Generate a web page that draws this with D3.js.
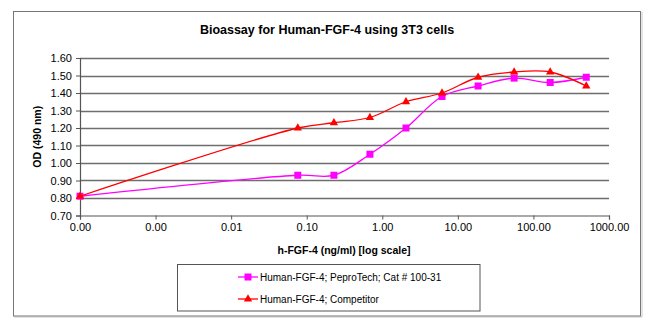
<!DOCTYPE html>
<html>
<head>
<meta charset="utf-8">
<script src="https://cdn.jsdelivr.net/npm/d3@7"></script>
<style>
  html, body { margin: 0; padding: 0; background: #fff; }
  svg { display: block; }
  text { font-family: "Liberation Sans", Arial, sans-serif; fill: #000; }
</style>
</head>
<body>
<svg id="chart" width="650" height="331"></svg>
<script>
// ---- data ----
const concentrations = [0.0001, 0.0762, 0.229, 0.686, 2.058, 6.173, 18.52, 55.56, 166.7, 500];
const peproTechOD = [0.81, 0.93, 0.93, 1.05, 1.20, 1.38, 1.44, 1.485, 1.46, 1.49];
const competitorOD = [0.81, 1.20, 1.23, 1.26, 1.35, 1.40, 1.49, 1.52, 1.52, 1.44];
const xTickValues = [0.0001, 0.001, 0.01, 0.1, 1, 10, 100, 1000];
const xTickLabels = ["0.00", "0.00", "0.01", "0.10", "1.00", "10.00", "100.00", "1000.00"];
const yTickValues = [0.70, 0.80, 0.90, 1.00, 1.10, 1.20, 1.30, 1.40, 1.50, 1.60];
const seriesNames = ["Human-FGF-4; PeproTech; Cat # 100-31", "Human-FGF-4; Competitor"];
const seriesColors = ["#ff00ff", "#ff0000"];
const chartTitle = "Bioassay for Human-FGF-4 using 3T3 cells";
const xTitle = "h-FGF-4 (ng/ml) [log scale]";
const yTitle = "OD (490 nm)";

// ---- layout ----
const svg = d3.select("#chart");
const plot = { left: 80, right: 609, top: 58, bottom: 215.5 };

// outer chart border with slight shadow
svg.append("line").attr("x1", 14).attr("x2", 642).attr("y1", 317).attr("y2", 317)
  .attr("stroke", "#c8c8c8").attr("stroke-width", 1);
svg.append("line").attr("x1", 642).attr("x2", 642).attr("y1", 12).attr("y2", 317)
  .attr("stroke", "#c8c8c8").attr("stroke-width", 1);
svg.append("rect").attr("x", 13.5).attr("y", 11.5).attr("width", 627).attr("height", 304.5)
  .attr("fill", "none").attr("stroke", "#777").attr("stroke-width", 1);

const x = d3.scaleLog().domain([0.0001, 1000]).range([plot.left, plot.right]);
const y = d3.scaleLinear().domain([0.70, 1.60]).range([plot.bottom, plot.top]);

// gridlines
svg.append("g").selectAll("line").data(yTickValues.slice(1)).join("line")
  .attr("x1", plot.left).attr("x2", plot.right)
  .attr("y1", d => Math.round(y(d)) + 0.5).attr("y2", d => Math.round(y(d)) + 0.5)
  .attr("stroke", "#6e6e6e").attr("stroke-width", 1.3);

// y axis
const yAxis = d3.axisLeft(y).tickValues(yTickValues).tickFormat(d3.format(".2f"))
  .tickSize(4).tickPadding(4);
const gy = svg.append("g").attr("transform", `translate(${plot.left},0)`).call(yAxis);
gy.select(".domain").attr("stroke", "#555").attr("stroke-width", 1.2);
gy.selectAll(".tick line").attr("stroke", "#555");
gy.selectAll("text").attr("font-size", 11).attr("font-family", "Liberation Sans, Arial, sans-serif").attr("fill", "#222");

// x axis
const xAxis = d3.axisBottom(x).tickValues(xTickValues)
  .tickFormat((d, i) => xTickLabels[i]).tickSize(4).tickPadding(4);
const gx = svg.append("g").attr("transform", `translate(0,${plot.bottom})`).call(xAxis);
gx.select(".domain").attr("stroke", "#555").attr("stroke-width", 1.2);
gx.selectAll(".tick line").attr("stroke", "#555");
gx.selectAll("text").attr("font-size", 11).attr("font-family", "Liberation Sans, Arial, sans-serif").attr("fill", "#222");

// titles
svg.append("text").attr("x", 327).attr("y", 34).attr("text-anchor", "middle")
  .attr("font-size", 12.5).attr("font-weight", "bold").text(chartTitle);
svg.append("text").attr("x", 344).attr("y", 254).attr("text-anchor", "middle")
  .attr("font-size", 10.5).attr("font-weight", "bold").text(xTitle);
svg.append("text").attr("transform", `translate(41,${(plot.top + plot.bottom) / 2}) rotate(-90)`)
  .attr("text-anchor", "middle").attr("font-size", 10.5).attr("font-weight", "bold").text(yTitle);

// series
const seriesData = [peproTechOD, competitorOD];
const line = d3.line().x(d => x(d[0])).y(d => y(d[1])).curve(d3.curveCatmullRom.alpha(0.5));
const triangle = d3.symbol().type(d3.symbolTriangle).size(30);

seriesData.forEach((vals, s) => {
  const pts = concentrations.map((c, i) => [c, vals[i]]);
  svg.append("path").datum(pts).attr("d", line)
    .attr("fill", "none").attr("stroke", seriesColors[s]).attr("stroke-width", 1.3);
  const g = svg.append("g");
  if (s === 0) {
    g.selectAll("rect").data(pts).join("rect")
      .attr("x", d => x(d[0]) - 3.5).attr("y", d => y(d[1]) - 3.5)
      .attr("width", 7).attr("height", 7).attr("fill", seriesColors[s]);
  } else {
    g.selectAll("path").data(pts).join("path")
      .attr("transform", d => `translate(${x(d[0])},${y(d[1])})`)
      .attr("d", triangle).attr("fill", seriesColors[s]);
  }
});

// legend
svg.append("rect").attr("x", 177.5).attr("y", 264.5).attr("width", 302.5).attr("height", 46.5)
  .attr("fill", "#fff").attr("stroke", "#555").attr("stroke-width", 1);
const legendY = [277, 299];
seriesNames.forEach((name, s) => {
  const g = svg.append("g");
  g.append("line").attr("x1", 238).attr("x2", 258).attr("y1", legendY[s]).attr("y2", legendY[s])
    .attr("stroke", seriesColors[s]).attr("stroke-width", 1.3);
  if (s === 0) {
    g.append("rect").attr("x", 244.5).attr("y", legendY[s] - 3.5).attr("width", 7).attr("height", 7)
      .attr("fill", seriesColors[s]);
  } else {
    g.append("path").attr("transform", `translate(248,${legendY[s]})`).attr("d", triangle)
      .attr("fill", seriesColors[s]);
  }
  g.append("text").attr("x", 260).attr("y", legendY[s] + 3.5).attr("font-size", 10).attr("fill", "#222").text(name);
});
</script>
</body>
</html>
